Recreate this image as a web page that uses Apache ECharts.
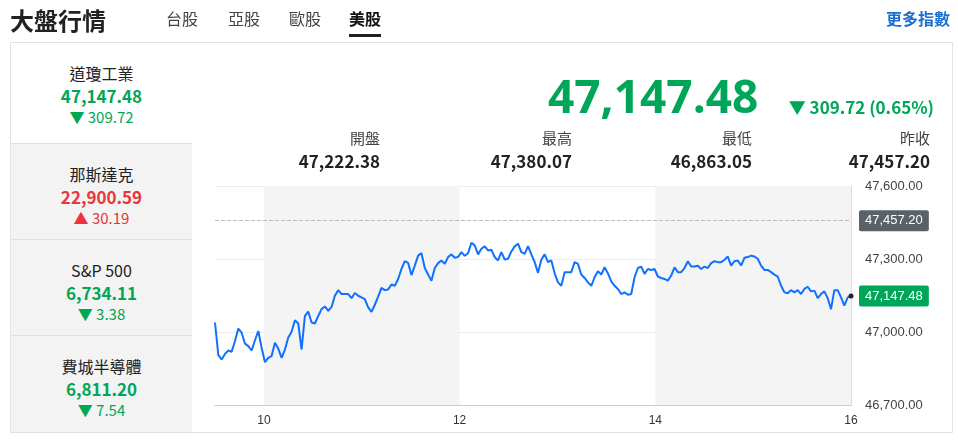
<!DOCTYPE html>
<html>
<head>
<meta charset="utf-8">
<script src="https://cdn.jsdelivr.net/npm/echarts@6/dist/echarts.min.js"></script>
<style>
  body { margin:0; width:958px; height:440px; position:relative; overflow:hidden; background:#fff;
         font-family:"Noto Sans CJK TC","Noto Sans",sans-serif; color:#222; }
  .abs { position:absolute; }
  #chart { position:absolute; left:0; top:0; width:958px; height:440px; }
  .title { left:10px; top:2px; font-size:24px; font-weight:bold; }
  .tab { top:6px; font-size:16px; color:#444; }
  .tab.on { color:#111; font-weight:bold; border-bottom:3px solid #222; padding-bottom:4px; }
  .more { right:8px; top:6px; font-size:16px; color:#1a6fd1; font-weight:bold; }
  .card { left:10px; top:42px; width:941px; height:389px; border:1px solid #e3e3e3; }
  .side { left:11px; width:181px; text-align:center; border-bottom:1px solid #e0e0e0; background:#f3f3f3; }
  .side.on { background:#fff; }
  .side .n { font-size:16px; margin-top:18px; }
  .side .v { font-size:17px; font-weight:bold; line-height:22px; }
  .side .c { font-size:15px; line-height:20px; }
  .g { color:#00a658; } .r { color:#e8353e; }
  .big { left:548px; top:64px; font-size:46px; font-weight:bold; color:#00a658; font-family:"Open Sans",sans-serif; }
  .chg { right:24px; top:94px; font-size:17px; font-weight:bold; color:#00a658; }
  .lab { top:127px; font-size:15px; color:#444; text-align:right; width:120px; }
  .val { top:148px; font-size:17px; font-weight:bold; text-align:right; width:160px; }
</style>
</head>
<body>
<div id="chart"></div>
<div class="abs title">大盤行情</div>
<div class="abs tab" style="left:166px">台股</div>
<div class="abs tab" style="left:228px">亞股</div>
<div class="abs tab" style="left:289px">歐股</div>
<div class="abs tab on" style="left:349px">美股</div>
<div class="abs more">更多指數</div>
<div class="abs card"></div>
<div id="side"></div>
<div class="abs big">47,147.48</div>
<div class="abs chg">▼ 309.72 (0.65%)</div>
<div id="stats"></div>
<script>
// 盤中走勢 (9:30 ~ 16:00)
const prices = [47039,46905,46887,46910,46924,46919,46963,47014,46997,46952,46942,46924,46966,47004,46935,
  46876,46894,46901,46956,46932,46894,46928,46977,47001,47048,47035,46928,47066,47084,47039,47035,47066,
  47094,47105,47087,47103,47149,47172,47156,47156,47156,47139,47160,47149,47142,47135,47101,47083,47112,
  47145,47181,47172,47175,47195,47190,47218,47259,47291,47284,47234,47273,47314,47324,47263,47236,47211,
  47263,47283,47294,47280,47308,47319,47305,47308,47328,47313,47324,47367,47356,47319,47342,47352,47335,
  47338,47308,47294,47328,47298,47301,47331,47352,47363,47328,47321,47353,47319,47287,47243,47297,47319,
  47287,47294,47241,47204,47190,47246,47246,47246,47287,
  47280,47236,47222,47204,47190,47225,47250,47236,47266,47241,47208,47190,47177,47156,47163,47153,47156,
  47225,47263,47269,47239,47259,47255,47259,47228,47222,47218,47211,47232,47266,47246,47246,47263,47291,
  47269,47269,47272,47259,47269,47263,47283,47291,47287,47287,47297,47310,47273,47291,47294,47273,47305,
  47308,47314,47310,47301,47273,47255,47255,47246,47236,47228,47190,47163,47159,47172,47163,47172,47156,
  47177,47186,47167,47170,47139,47156,47167,47139,47094,47172,47172,47142,47108,47142,47147.48];
const prevClose = 47457.20;
const lastPrice = 47147.48;
const yTicks = [46700, 47000, 47300, 47600];
const xHours = [10, 12, 14, 16];
const sideNames = ['道瓊工業', '那斯達克', 'S&P 500', '費城半導體'];
const sideValues = ['47,147.48', '22,900.59', '6,734.11', '6,811.20'];
const sideChanges = ['309.72', '30.19', '3.38', '7.54'];
const sideUp = [false, true, false, false];
const statLabels = ['開盤', '最高', '最低', '昨收'];
const statValues = ['47,222.38', '47,380.07', '46,863.05', '47,457.20'];

const fmt = v => v.toLocaleString('en-US', { minimumFractionDigits: 2, maximumFractionDigits: 2 });

// 左側清單
const tops = [42, 143, 239, 335], hs = [101, 96, 96, 97];
let html = '';
sideNames.forEach((n, i) => {
  const cls = sideUp[i] ? 'r' : 'g';
  html += `<div class="abs side${i === 0 ? ' on' : ''}" style="top:${tops[i] + 1}px;height:${hs[i] - 1}px">
    <div class="n">${n}</div><div class="v ${cls}">${sideValues[i]}</div>
    <div class="c ${cls}">${sideUp[i] ? '▲' : '▼'} ${sideChanges[i]}</div></div>`;
});
document.getElementById('side').innerHTML = html;
const rights = [380, 572, 752, 930];
document.getElementById('stats').innerHTML = statLabels.map((l, i) =>
  `<div class="abs lab" style="left:${rights[i] - 120}px">${l}</div>
   <div class="abs val" style="left:${rights[i] - 160}px">${statValues[i]}</div>`).join('');

const n = prices.length;
const data = prices.map((v, i) => [9.5 + i * 6.5 / (n - 1), v]);

const chart = echarts.init(document.getElementById('chart'));
chart.setOption({
  animation: false,
  grid: { left: 215, right: 107, top: 186, bottom: 35 },
  xAxis: {
    type: 'value', min: 9.5, max: 16, interval: 0.5,
    axisLine: { lineStyle: { color: '#ccc' } }, axisTick: { show: false }, splitLine: { show: false },
    axisLabel: { color: '#333', fontSize: 12, margin: 10,
      formatter: v => xHours.includes(v) ? String(v) : '' }
  },
  yAxis: {
    type: 'value', position: 'right', min: yTicks[0], max: yTicks[yTicks.length - 1], interval: 300,
    axisLine: { show: true, lineStyle: { color: '#dcdce4' } }, axisTick: { show: false },
    splitLine: { lineStyle: { color: '#ececec' } },
    axisLabel: { color: '#444', fontSize: 13, margin: 14, formatter: v => fmt(v) }
  },
  series: [{
    type: 'line', data: data, symbol: 'none',
    lineStyle: { color: '#1170ff', width: 2 },
    markArea: {
      silent: true, itemStyle: { color: '#f4f4f4' },
      data: [[{ xAxis: 10 }, { xAxis: 12 }], [{ xAxis: 14 }, { xAxis: 16 }]]
    },
    markLine: {
      silent: true, symbol: 'none',
      data: [
        { yAxis: prevClose, lineStyle: { color: '#bbb', type: 'dashed', width: 1 },
          label: { position: 'end', distance: 8, formatter: fmt(prevClose), color: '#fff', fontSize: 13,
            backgroundColor: '#5b6168', padding: [4, 6], borderRadius: 2 } },
        { yAxis: lastPrice, lineStyle: { color: 'rgba(0,0,0,0)', width: 1 },
          label: { show: true, position: 'end', distance: 8, formatter: fmt(lastPrice), color: '#fff', fontSize: 13,
            backgroundColor: '#00a658', padding: [4, 6], borderRadius: 2 } }
      ]
    },
    markPoint: {
      symbol: 'circle', symbolSize: 5, itemStyle: { color: '#222' }, label: { show: false },
      data: [{ coord: data[n - 1] }]
    }
  }]
});
</script>
</body>
</html>
